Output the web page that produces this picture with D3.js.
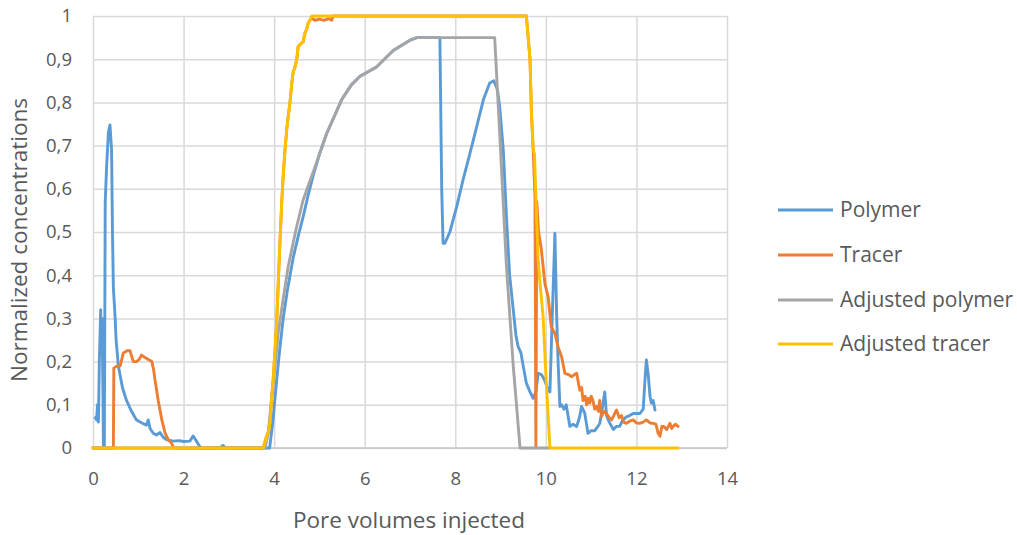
<!DOCTYPE html>
<html><head><meta charset="utf-8">
<script src="https://cdn.jsdelivr.net/npm/d3@7"></script>
<style>
body{margin:0;background:#fff}
text{font-family:'Open Sans',sans-serif;fill:#595959}
</style>
</head><body>
<svg id="c" width="1017" height="535"></svg>
<script>
// ---------- data ----------
const xTicks = [0, 2, 4, 6, 8, 10, 12, 14];
const yTicks = [0, 0.1, 0.2, 0.3, 0.4, 0.5, 0.6, 0.7, 0.8, 0.9, 1];
const yTickLabels = ["0", "0,1", "0,2", "0,3", "0,4", "0,5", "0,6", "0,7", "0,8", "0,9", "1"];
const xTitle = "Pore volumes injected";
const yTitle = "Normalized concentrations";
const seriesNames = ["Polymer", "Tracer", "Adjusted polymer", "Adjusted tracer"];

const polymer = [
  [0.05,0.07],[0.08,0.065],[0.1,0.1],[0.12,0.06],[0.14,0.2],[0.17,0.32],[0.18,0.22],[0.2,0.3],[0.22,0.12],[0.23,0],[0.25,0],
  [0.27,0.57],[0.3,0.65],[0.34,0.73],[0.375,0.748],[0.41,0.69],[0.43,0.5],[0.45,0.37],[0.49,0.3],[0.51,0.25],[0.56,0.19],
  [0.65,0.14],[0.74,0.11],[0.85,0.085],[0.96,0.065],[1.08,0.058],[1.18,0.053],[1.22,0.065],[1.26,0.045],[1.33,0.034],
  [1.4,0.03],[1.48,0.036],[1.55,0.025],[1.63,0.019],[1.77,0.016],[1.9,0.017],[2.0,0.015],[2.14,0.016],[2.21,0.028],
  [2.26,0.02],[2.32,0.01],[2.38,0],[2.8,0],[2.87,0.006],[2.93,0],[3.9,0],[3.97,0.06],[4.05,0.15],[4.12,0.225],[4.2,0.3],
  [4.3,0.37],[4.42,0.44],[4.53,0.49],[4.64,0.535],[4.75,0.585],[4.86,0.63],[5.0,0.68],[5.16,0.728],[5.49,0.806],
  [5.7,0.84],[5.89,0.86],[6.26,0.882],[6.63,0.92],[7.0,0.944],[7.15,0.95],[7.66,0.95],[7.7,0.6],[7.73,0.474],[7.77,0.474],
  [7.88,0.5],[8.03,0.558],[8.17,0.62],[8.32,0.68],[8.47,0.743],[8.62,0.806],[8.76,0.845],[8.85,0.85],[8.93,0.83],
  [8.98,0.79],[9.06,0.69],[9.13,0.535],[9.2,0.4],[9.28,0.32],[9.34,0.26],[9.39,0.234],[9.45,0.22],[9.5,0.19],[9.57,0.15],
  [9.65,0.13],[9.72,0.115],[9.78,0.13],[9.83,0.173],[9.9,0.17],[9.96,0.16],[10.05,0.134],[10.09,0.13],[10.14,0.3],
  [10.2,0.497],[10.24,0.3],[10.27,0.2],[10.31,0.096],[10.35,0.1],[10.4,0.09],[10.45,0.1],[10.53,0.05],[10.6,0.055],
  [10.68,0.05],[10.74,0.07],[10.79,0.096],[10.86,0.08],[10.93,0.034],[11.0,0.04],[11.08,0.04],[11.15,0.05],[11.19,0.057],
  [11.23,0.08],[11.3,0.13],[11.34,0.075],[11.4,0.06],[11.49,0.043],[11.56,0.05],[11.63,0.05],[11.7,0.065],[11.78,0.072],
  [11.85,0.075],[11.93,0.08],[12.0,0.08],[12.08,0.08],[12.15,0.09],[12.19,0.16],[12.22,0.204],[12.26,0.17],[12.3,0.12],
  [12.33,0.104],[12.37,0.11],[12.41,0.088]
];
const tracer = [
  [0,0],[0.45,0],[0.46,0.185],[0.53,0.19],[0.6,0.19],[0.67,0.22],[0.75,0.225],[0.82,0.225],[0.86,0.21],[0.89,0.2],
  [0.96,0.2],[1.02,0.205],[1.07,0.215],[1.14,0.21],[1.22,0.205],[1.3,0.2],[1.34,0.18],[1.37,0.157],[1.44,0.11],
  [1.52,0.065],[1.59,0.035],[1.66,0.02],[1.74,0.01],[1.78,0],[3.76,0],[3.83,0.026],[3.88,0.04],[3.91,0.06],[3.94,0.11],
  [3.98,0.16],[4.02,0.227],[4.06,0.3],[4.09,0.38],[4.13,0.48],[4.17,0.574],[4.2,0.63],[4.24,0.69],[4.28,0.74],[4.31,0.767],
  [4.35,0.8],[4.39,0.845],[4.42,0.87],[4.46,0.882],[4.5,0.9],[4.53,0.929],[4.58,0.935],[4.64,0.94],[4.68,0.96],[4.72,0.97],
  [4.75,0.983],[4.79,0.99],[4.83,0.995],[4.9,0.99],[5.0,0.993],[5.1,0.99],[5.2,0.994],[5.27,0.99],[5.3,1],[9.57,1],
  [9.65,0.9],[9.68,0.78],[9.72,0.69],[9.76,0.58],[9.78,0],[9.8,0.57],[9.84,0.5],[9.9,0.46],[9.94,0.42],[9.98,0.38],
  [10.05,0.35],[10.12,0.28],[10.2,0.265],[10.27,0.234],[10.35,0.21],[10.42,0.173],[10.5,0.17],[10.57,0.165],[10.63,0.17],
  [10.68,0.173],[10.72,0.15],[10.75,0.134],[10.79,0.14],[10.82,0.11],[10.87,0.12],[10.9,0.1],[10.94,0.115],[10.97,0.104],
  [11.0,0.12],[11.04,0.11],[11.08,0.09],[11.12,0.096],[11.16,0.085],[11.19,0.11],[11.23,0.073],[11.28,0.085],[11.34,0.08],
  [11.4,0.07],[11.45,0.065],[11.5,0.075],[11.56,0.088],[11.62,0.07],[11.67,0.075],[11.72,0.06],[11.78,0.057],[11.85,0.062],
  [11.93,0.065],[12.0,0.058],[12.07,0.057],[12.15,0.06],[12.22,0.065],[12.3,0.058],[12.37,0.057],[12.43,0.055],[12.48,0.034],
  [12.52,0.027],[12.56,0.05],[12.6,0.05],[12.67,0.043],[12.74,0.057],[12.78,0.045],[12.81,0.05],[12.86,0.055],[12.92,0.05]
];
const adjustedPolymer = [
  [0,0],[3.8,0],[3.87,0.035],[3.94,0.11],[4.02,0.19],[4.09,0.266],[4.2,0.345],[4.31,0.42],[4.47,0.5],[4.64,0.574],
  [4.9,0.65],[5.16,0.728],[5.49,0.806],[5.7,0.84],[5.89,0.86],[6.26,0.882],[6.63,0.92],[7.0,0.944],[7.15,0.95],[8.87,0.95],
  [8.98,0.73],[9.13,0.42],[9.28,0.19],[9.43,0],[10.1,0]
];
const adjustedTracer = [
  [0,0],[3.76,0],[3.83,0.026],[3.88,0.04],[3.91,0.06],[3.94,0.11],[3.98,0.16],[4.02,0.227],[4.06,0.3],[4.09,0.38],
  [4.13,0.48],[4.17,0.574],[4.2,0.63],[4.24,0.69],[4.28,0.74],[4.31,0.767],[4.35,0.8],[4.39,0.845],[4.42,0.87],[4.46,0.882],
  [4.5,0.9],[4.53,0.929],[4.58,0.935],[4.64,0.94],[4.68,0.96],[4.72,0.97],[4.75,0.983],[4.79,0.99],[4.83,1],[9.57,1],
  [9.65,0.9],[9.68,0.78],[9.72,0.69],[9.75,0.68],[9.79,0.55],[9.83,0.435],[9.88,0.37],[9.94,0.304],[10.01,0.15],[10.09,0],
  [12.92,0]
];
const seriesData = [polymer, tracer, adjustedPolymer, adjustedTracer];

// ---------- styles ----------
const colors = ["#5B9BD5", "#ED7D31", "#A5A5A5", "#FFC000"];
const margin = {left: 93, right: 290, top: 16, bottom: 87};
const W = 1017, H = 535;

const svg = d3.select("#c");
const x = d3.scaleLinear().domain([0, 14]).range([margin.left, W - margin.right]);
const y = d3.scaleLinear().domain([0, 1]).range([H - margin.bottom, margin.top]);

// horizontal grid
svg.append("g")
  .attr("transform", `translate(${margin.left},0)`)
  .call(d3.axisLeft(y).tickValues(yTicks).tickSize(-(x.range()[1] - x.range()[0])).tickFormat(""))
  .call(g => g.select(".domain").remove())
  .call(g => g.selectAll("line").attr("stroke", "#d9d9d9").attr("stroke-width", 1.5));
// vertical grid
svg.append("g")
  .attr("transform", `translate(0,${margin.top})`)
  .call(d3.axisBottom(x).tickValues(xTicks).tickSize(y.range()[0] - y.range()[1]).tickFormat(""))
  .call(g => g.select(".domain").remove())
  .call(g => g.selectAll("line").attr("stroke", "#d9d9d9").attr("stroke-width", 1.5));
// axis line
svg.append("line")
  .attr("x1", x.range()[0]).attr("x2", x.range()[1])
  .attr("y1", y(0)).attr("y2", y(0))
  .attr("stroke", "#c6c6c6").attr("stroke-width", 1.5);

const tickFs = 18.5, titleFs = 22.5, legendFs = 21;
// y tick labels
svg.append("g")
  .attr("transform", `translate(${margin.left},0)`)
  .call(d3.axisLeft(y).tickValues(yTicks).tickSize(0).tickPadding(21).tickFormat((d, i) => yTickLabels[i]))
  .call(g => g.select(".domain").remove())
  .call(g => g.selectAll("text").attr("font-size", tickFs).attr("font-family", "'Open Sans',sans-serif").attr("fill", "#595959"));
// x tick labels
svg.append("g")
  .attr("transform", `translate(0,${y(0)})`)
  .call(d3.axisBottom(x).tickValues(xTicks).tickSize(0).tickPadding(24))
  .call(g => g.select(".domain").remove())
  .call(g => g.selectAll("text").attr("font-size", tickFs).attr("font-family", "'Open Sans',sans-serif").attr("fill", "#595959"));

// lines
const line = d3.line().x(d => x(d[0])).y(d => y(d[1]));
svg.append("g").selectAll("path").data(seriesData).join("path")
  .attr("d", line)
  .attr("fill", "none")
  .attr("stroke", (d, i) => colors[i])
  .attr("stroke-width", 2.9)
  .attr("stroke-linejoin", "round")
  .attr("stroke-linecap", "round");

// titles
svg.append("text").attr("x", 409).attr("y", 528)
  .attr("text-anchor", "middle").attr("font-size", titleFs).text(xTitle);
svg.append("text").attr("transform", "translate(27,240) rotate(-90)")
  .attr("text-anchor", "middle").attr("font-size", titleFs).text(yTitle);

// legend
const legendY = [210, 255, 300, 344];
const lg = svg.append("g").selectAll("g").data(seriesNames).join("g")
  .attr("transform", (d, i) => `translate(778,${legendY[i]})`);
lg.append("line").attr("x1", 0).attr("x2", 55).attr("y1", 0).attr("y2", 0)
  .attr("stroke", (d, i) => colors[i]).attr("stroke-width", 3);
lg.append("text").attr("x", 62).attr("y", 0).attr("dy", "0.35em")
  .attr("font-size", legendFs).text(d => d);
</script>
</body></html>
